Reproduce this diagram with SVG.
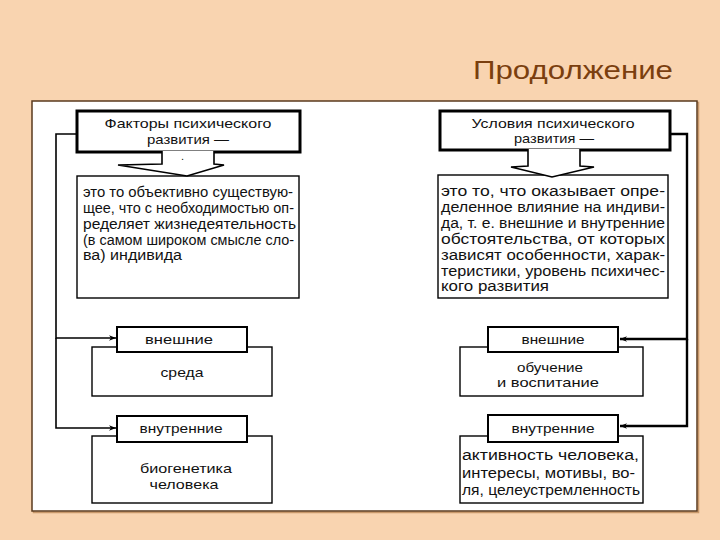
<svg xmlns="http://www.w3.org/2000/svg" width="720" height="540" viewBox="0 0 720 540">
<defs>
<style>
text{font-family:"Liberation Sans",Arial,sans-serif;fill:#111}
.hd{font-size:13.5px;text-anchor:middle}
.tx{font-size:14px}
.tr{font-size:13.8px}
.lb{font-size:13.5px;text-anchor:middle}
.thick{fill:#fff;stroke:#000;stroke-width:3}
.thin{fill:#fff;stroke:#000;stroke-width:1.4}
.mid{fill:#fff;stroke:#000;stroke-width:2}
.con{fill:none;stroke:#000;stroke-width:1.6}
</style>
<marker id="ah" viewBox="0 0 10 10" refX="10" refY="5" markerWidth="7" markerHeight="7" orient="auto" markerUnits="userSpaceOnUse">
<path d="M0,1 L10,5 L0,9 L3,5 Z" fill="#000"/>
</marker>
</defs>
<rect x="0" y="0" width="720" height="540" fill="#F9D4B0"/>
<rect x="33.5" y="102.5" width="665" height="410" fill="none" stroke="#C9986A" stroke-width="1.5"/>
<rect x="32" y="101" width="665" height="410" fill="#fff" stroke="#5A3A1E" stroke-width="1.5"/>
<text x="473" y="79" font-size="25" textLength="200" lengthAdjust="spacingAndGlyphs" style="fill:#7B3F0F">Продолжение</text>

<g id="connectors">
<polyline class="con" points="77,134 56,134 56,338 116,338" marker-end="url(#ah)"/>
<polyline class="con" points="56,338 56,428 116,428" marker-end="url(#ah)"/>
<polyline class="con" points="670,134 687,134 687,339 620,339" style="stroke-width:2.4" marker-end="url(#ah)"/>
<polyline class="con" points="687,339 687,426 620,426" style="stroke-width:2.4" marker-end="url(#ah)"/>
</g>

<g id="factors-desc">
<rect class="thin" x="77" y="176" width="222" height="122"/>
<text class="tx" x="83" y="197" textLength="210" lengthAdjust="spacingAndGlyphs">это то объективно существую-</text>
<text class="tx" x="83" y="213" textLength="211" lengthAdjust="spacingAndGlyphs">щее, что с необходимостью оп-</text>
<text class="tx" x="83" y="229" textLength="213" lengthAdjust="spacingAndGlyphs">ределяет жизнедеятельность</text>
<text class="tx" x="83" y="245" textLength="211" lengthAdjust="spacingAndGlyphs">(в самом широком смысле сло-</text>
<text class="tx" x="83" y="260" textLength="99" lengthAdjust="spacingAndGlyphs">ва) индивида</text>
</g>
<g id="factors">
<rect class="thick" x="77" y="111" width="223" height="41"/>
<text class="hd" x="188" y="128" textLength="167" lengthAdjust="spacingAndGlyphs">Факторы психического</text>
<text class="hd" x="188" y="144" textLength="82" lengthAdjust="spacingAndGlyphs">развития —</text>
<path d="M162,151 L162,164 L118,165 L187,176 L224,165 L214,164 L214,151" fill="#fff" stroke="#000" stroke-width="1.6"/>
<text x="181" y="160" font-size="11">.</text>
</g>

<g id="conditions-desc">
<rect class="thin" x="438" y="175" width="230" height="123"/>
<text class="tr" x="441" y="196" textLength="224" lengthAdjust="spacingAndGlyphs">это то, что оказывает опре-</text>
<text class="tr" x="441" y="212" textLength="224" lengthAdjust="spacingAndGlyphs">деленное влияние на индиви-</text>
<text class="tr" x="441" y="228" textLength="224" lengthAdjust="spacingAndGlyphs">да, т. е. внешние и внутренние</text>
<text class="tr" x="441" y="244" textLength="224" lengthAdjust="spacingAndGlyphs">обстоятельства, от которых</text>
<text class="tr" x="441" y="260" textLength="224" lengthAdjust="spacingAndGlyphs">зависят особенности, харак-</text>
<text class="tr" x="441" y="276" textLength="224" lengthAdjust="spacingAndGlyphs">теристики, уровень психичес-</text>
<text class="tr" x="441" y="291" textLength="108" lengthAdjust="spacingAndGlyphs">кого развития</text>
</g>
<g id="conditions">
<rect class="thick" x="440" y="111" width="230" height="39"/>
<text class="hd" x="553" y="128" textLength="163" lengthAdjust="spacingAndGlyphs">Условия психического</text>
<text class="hd" x="554" y="143" textLength="80" lengthAdjust="spacingAndGlyphs">развития —</text>
<path d="M528,149 L528,166 L511,167 L552,177 L594,167 L580,166 L580,149" fill="#fff" stroke="#000" stroke-width="1.6"/>
</g>

<g id="env">
<rect class="thin" x="92" y="347" width="180" height="49"/>
<text class="lb" x="182" y="377" textLength="43" lengthAdjust="spacingAndGlyphs">среда</text>
</g>
<g id="ext-left">
<rect class="mid" x="117" y="327" width="130" height="25"/>
<text class="lb" x="179" y="344" textLength="68" lengthAdjust="spacingAndGlyphs">внешние</text>
</g>
<g id="bio">
<rect class="thin" x="92" y="436" width="180" height="67"/>
<text class="lb" x="186" y="473" textLength="92" lengthAdjust="spacingAndGlyphs">биогенетика</text>
<text class="lb" x="184" y="489" textLength="69" lengthAdjust="spacingAndGlyphs">человека</text>
</g>
<g id="int-left">
<rect class="mid" x="117" y="416" width="130" height="26"/>
<text class="lb" x="181" y="433" textLength="83" lengthAdjust="spacingAndGlyphs">внутренние</text>
</g>

<g id="edu">
<rect class="thin" x="460" y="347" width="183" height="49"/>
<text class="lb" x="550" y="372" textLength="66" lengthAdjust="spacingAndGlyphs">обучение</text>
<text class="lb" x="548" y="387" textLength="102" lengthAdjust="spacingAndGlyphs">и воспитание</text>
</g>
<g id="ext-right">
<rect class="mid" x="488" y="327" width="130" height="25"/>
<text class="lb" x="553" y="344" textLength="63" lengthAdjust="spacingAndGlyphs">внешние</text>
</g>
<g id="activity">
<rect class="thin" x="460" y="436" width="183" height="67"/>
<text class="tx" x="462" y="460" textLength="177" lengthAdjust="spacingAndGlyphs">активность человека,</text>
<text class="tx" x="462" y="478" textLength="173" lengthAdjust="spacingAndGlyphs">интересы, мотивы, во-</text>
<text class="tx" x="462" y="495" textLength="178" lengthAdjust="spacingAndGlyphs">ля, целеустремленность</text>
</g>
<g id="int-right">
<rect class="mid" x="488" y="415" width="130" height="27"/>
<text class="lb" x="553" y="433" textLength="83" lengthAdjust="spacingAndGlyphs">внутренние</text>
</g>
</svg>
